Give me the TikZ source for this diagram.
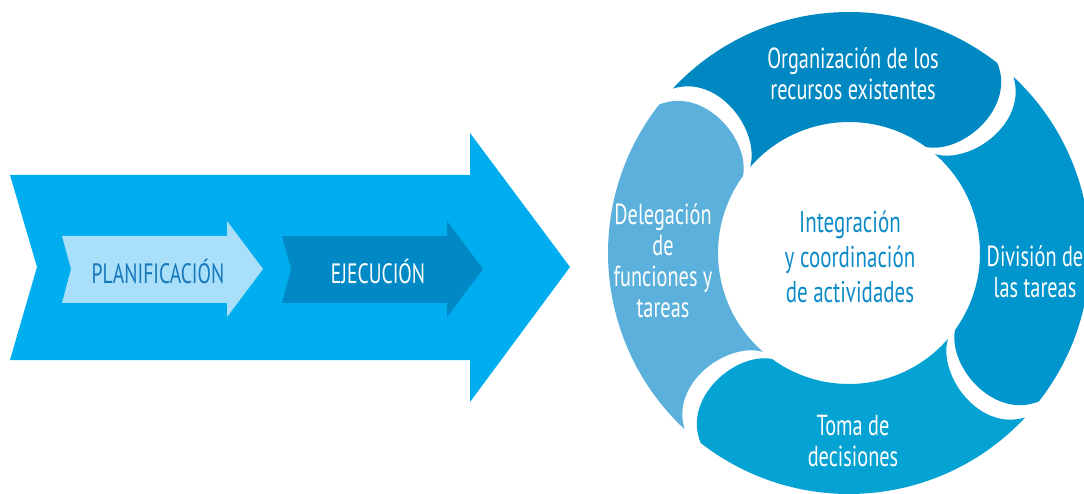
\documentclass[tikz,border=0pt]{standalone}
\usepackage{fontspec}
\setmainfont{PT Sans}[FakeStretch=0.7]
\usetikzlibrary{positioning}
\definecolor{flowcyan}{HTML}{00AEEF}
\definecolor{planfill}{HTML}{A9DFF9}
\definecolor{plantext}{HTML}{1577BC}
\definecolor{ejecfill}{HTML}{0089C4}
\definecolor{segorg}{HTML}{0088C2}
\definecolor{segdiv}{HTML}{0095CD}
\definecolor{segtoma}{HTML}{05A3D3}
\definecolor{segdel}{HTML}{5BB1DB}
\definecolor{centretext}{HTML}{0D8AC8}

\begin{document}
\begin{tikzpicture}[x=1pt,y=1pt,
    steplabel/.style={font=\fontsize{28}{32}\selectfont},
    seglabel/.style={align=center,text=white,font=\fontsize{29}{31}\selectfont},
    centrelabel/.style={align=center,text=centretext,font=\fontsize{30}{35}\selectfont}]
    \useasboundingbox (0,0) rectangle (1084,493);

    % big arrow with the two steps
    \fill[flowcyan] (10,318) -- (470,318) -- (470,360) -- (570,226) -- (470,91) -- (470,133) -- (10,133) -- (37,226) -- cycle;
    \fill[planfill] (62,257) -- (227,257) -- (227,272) -- (263,224) -- (227,176) -- (227,190) -- (62,190) -- (71,224) -- cycle;
    \fill[ejecfill] (282,257) -- (447,257) -- (447,272) -- (483,224) -- (447,176) -- (447,190) -- (282,190) -- (291,224) -- cycle;
    \node[steplabel,text=plantext] (plan) at (158,222) {PLANIFICACIÓN};
    \node[steplabel,text=white] (ejec) at (378,222) {EJECUCIÓN};

    % cycle ring
    \begin{scope}[shift={(849,240)}]
        \foreach \t/\h/\col in {137/52/segorg, 47/-38/segdiv, -43/-128/segtoma, -133/-218/segdel}
            \fill[\col] (\t:241) arc[start angle=\t, end angle=\h, radius=241]
                .. controls ({\h-11}:221) and ({\h-11}:151) .. ({\h+2}:131)
                arc[start angle={\h+2}, end angle={\t+2}, radius=131]
                .. controls ({\t-11}:151) and ({\t-11}:221) .. cycle;
    \end{scope}

    \node[seglabel] (org) at (853,419) {Organización de los\\recursos existentes};
    \node[seglabel] (div) at (1035,221) {División de\\las tareas};
    \node[seglabel] (toma) at (853,52) {Toma de\\decisiones};
    \node[seglabel] (del) at (663,232) {Delegación\\de\\funciones y\\tareas};
    \node[centrelabel] (centre) at (850,236) {Integración\\y coordinación\\de actividades};
\end{tikzpicture}
\end{document}
